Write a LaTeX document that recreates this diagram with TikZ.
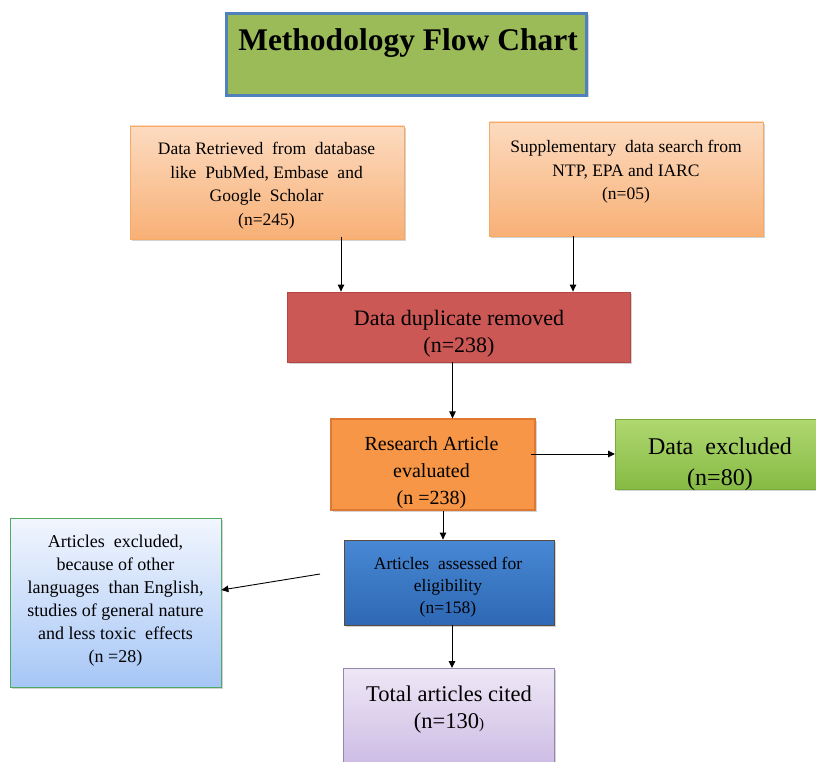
\documentclass[tikz,border=0pt]{standalone}
\usepackage{fontspec}
\setmainfont{Liberation Serif}
\usetikzlibrary{shadows,arrows.meta}
\definecolor{titlefill}{RGB}{155,187,89}
\definecolor{titledraw}{RGB}{79,129,189}
\definecolor{peachtop}{RGB}{252,219,192}
\definecolor{peachbot}{RGB}{248,176,118}
\definecolor{peachdraw}{RGB}{246,170,100}
\definecolor{redfill}{RGB}{204,88,85}
\definecolor{reddraw}{RGB}{180,70,68}
\definecolor{orfill}{RGB}{247,150,70}
\definecolor{ordraw}{RGB}{222,120,50}
\definecolor{grtop}{RGB}{176,216,112}
\definecolor{grbot}{RGB}{134,186,68}
\definecolor{grdraw}{RGB}{120,170,60}
\definecolor{bltop}{RGB}{72,136,212}
\definecolor{blbot}{RGB}{46,104,180}
\definecolor{bldraw}{RGB}{90,75,65}
\definecolor{lbtop}{RGB}{242,246,254}
\definecolor{lbbot}{RGB}{166,198,246}
\definecolor{lbdraw}{RGB}{80,168,98}
\definecolor{putop}{RGB}{238,231,246}
\definecolor{pubot}{RGB}{200,182,226}
\definecolor{pudraw}{RGB}{150,135,175}
\tikzset{
  box/.style={rectangle, inner sep=0pt,
    drop shadow={shadow xshift=2pt, shadow yshift=-2pt, opacity=0.35}},
  txt/.style={inner sep=0pt, align=center, text=black},
  arr/.style={-{Triangle[length=7pt,width=6.5pt]}, line width=0.9pt, black},
}
\begin{document}
\begin{tikzpicture}[x=1pt,y=-1pt]
\useasboundingbox (0,0) rectangle (816,762);
% title
\node[box, fill=titlefill, draw=titledraw, line width=3.5pt,
  minimum width=360pt, minimum height=82pt] (title) at (406.5,54.5) {};
\node[txt, font=\fontsize{31.5}{34}\selectfont\bfseries] (titletext) at (408,43) {Methodology Flow Chart};
% source boxes
\node[box, top color=peachtop, bottom color=peachbot, draw=peachdraw, line width=0.8pt,
  minimum width=274pt, minimum height=113pt] (src1) at (267,182.5) {};
\node[txt, font=\fontsize{17.5}{23.5}\selectfont] (src1t) at (266.5,185.5)
  {Data Retrieved\ \ from\ \ database\\like\ \ PubMed, Embase\ \ and\\Google\ \ Scholar\\(n=245)};
\node[box, top color=peachtop, bottom color=peachbot, draw=peachdraw, line width=0.8pt,
  minimum width=274pt, minimum height=114pt] (src2) at (626,179) {};
\node[txt, font=\fontsize{17.5}{23.5}\selectfont] (src2t) at (626,172)
  {Supplementary\ \ data search from\\NTP, EPA and IARC\\(n=05)};
% duplicate removed
\node[box, fill=redfill, draw=reddraw, line width=0.8pt,
  minimum width=343pt, minimum height=70pt] (dup) at (458.5,327) {};
\node[txt, font=\fontsize{22}{27}\selectfont] (dupt) at (459,334)
  {Data duplicate removed\\(n=238)};
% research evaluated
\node[box, fill=orfill, draw=ordraw, line width=2pt,
  minimum width=204pt, minimum height=91pt] (eval) at (433,464.5) {};
\node[txt, font=\fontsize{20}{27}\selectfont] (evalt) at (431.5,473)
  {Research Article\\evaluated\\(n =238)};
% data excluded
\node[box, top color=grtop, bottom color=grbot, draw=grdraw, line width=0.8pt,
  minimum width=210pt, minimum height=70pt, anchor=west] (excl) at (615,454) {};
\node[txt, font=\fontsize{24}{31}\selectfont] (exclt) at (720,464.5)
  {Data\ \ excluded\\(n=80)};
% assessed
\node[box, top color=bltop, bottom color=blbot, draw=bldraw, line width=0.8pt,
  minimum width=210pt, minimum height=85pt] (assess) at (449,582.5) {};
\node[txt, font=\fontsize{17.5}{22}\selectfont] (assesst) at (448,587.5)
  {Articles\ \ assessed for\\eligibility\\(n=158)};
% articles excluded
\node[box, top color=lbtop, bottom color=lbbot, draw=lbdraw, line width=0.8pt,
  minimum width=211pt, minimum height=169pt] (artex) at (115.5,602.5) {};
\node[txt, font=\fontsize{18}{23}\selectfont] (artext) at (115.5,601)
  {Articles\ \ excluded,\\because of other\\languages\ \ than English,\\studies\ of\ general\ nature\\and less toxic\ \ effects\\(n =28)};
% total cited
\node[box, top color=putop, bottom color=pubot, draw=pudraw, line width=0.8pt,
  minimum width=211pt, minimum height=110pt, anchor=north] (total) at (448.5,668) {};
\node[txt, font=\fontsize{22.5}{27}\selectfont] (totalt) at (449,709.5)
  {Total\ articles\ cited\\(n=130{\fontsize{15}{15}\selectfont)}};
% connectors
\coordinate (c1) at (341,237);
\coordinate (c2) at (573,236);
\coordinate (c3) at (320,574);
\draw[arr] (c1) -- (c1 |- dup.north);
\draw[arr] (c2) -- (c2 |- dup.north);
\draw[arr] (dup.south -| eval.north) ++(19.5,0) -- ++(0,56);
\draw[arr] ([xshift=-5pt]eval.east |- excl.west) -- (excl.west);
\draw[arr] ([xshift=10pt]eval.south) -- ([xshift=-6pt]assess.north);
\draw[arr] (c3) -- (artex.east |- 0,590);
\draw[arr] ([xshift=3pt]assess.south) -- ([xshift=3.5pt]total.north);
\end{tikzpicture}
\end{document}
